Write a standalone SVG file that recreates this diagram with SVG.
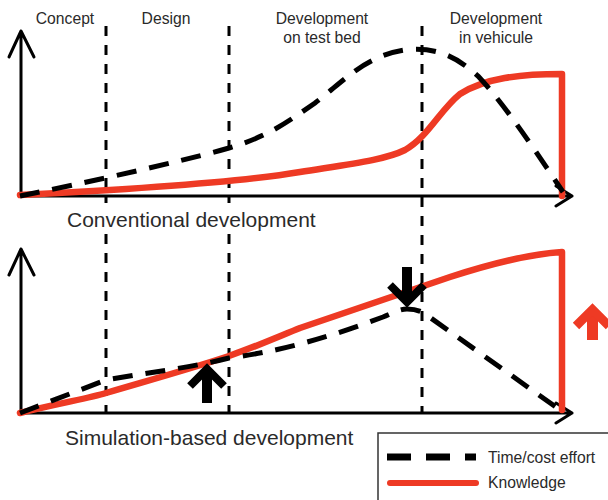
<svg xmlns="http://www.w3.org/2000/svg" width="608" height="500" viewBox="0 0 608 500">
<style>
.t{font-family:"Liberation Sans",Arial,sans-serif;fill:#2a2a2a}
.ax{fill:none;stroke:#000;stroke-width:3;stroke-linecap:round;stroke-linejoin:round}
.ph{fill:none;stroke:#000;stroke-width:3;stroke-dasharray:10 9}
.eff{fill:none;stroke:#000;stroke-width:5;stroke-dasharray:20 13}
.kn{fill:none;stroke:#ee3a24;stroke-width:6.5;stroke-linecap:round;stroke-linejoin:round}
.ar{fill:none;stroke:#000}
</style>
<rect width="608" height="500" fill="#fff"/>
<g id="phase-labels" class="t" font-size="15.7" text-anchor="middle">
<text x="65" y="24">Concept</text>
<text x="166" y="24">Design</text>
<text x="322" y="24">Development</text>
<text x="322" y="43">on test bed</text>
<text x="496" y="24">Development</text>
<text x="496" y="43">in vehicule</text>
</g>
<g id="phase-lines">
<path class="ph" d="M106,26 V203 M106,234 V413"/>
<path class="ph" d="M229,26 V203 M229,234 V413"/>
<path class="ph" d="M422,26 V413"/>
</g>
<g id="conventional">
<path class="ax" d="M21,196 V31 M9,57 L21,31 L34,57"/>
<path class="ax" d="M21,196 H572 M556,186 L572,196 L556,206"/>
<path class="kn" d="M20,195 C100,191 230,184 300,172 C350,164 385,160 405,150 C428,137 440,110 460,94 C485,78 520,74 562,74 L562,196"/>
<path class="eff" d="M20,196 C80,184 180,162 229,148 C270,136 290,120 315,103 C345,80 365,56 405,50 C440,46 460,60 478,76 C505,105 535,150 563,192"/>
<text class="t" x="67" y="227" font-size="21">Conventional development</text>
</g>
<g id="simulation">
<path class="ax" d="M21,413 V249 M9,275 L21,249 L34,275"/>
<path class="ax" d="M21,413 H572 M556,403 L572,413 L556,423"/>
<path class="kn" d="M20,413 C60,403 90,398 106,393 C150,380 190,369 229,356 C260,345 280,336 300,328 L450,277 C490,264 530,254 562,252 L562,410"/>
<path class="eff" d="M20,413 L106,380 C150,372 190,368 229,358 C290,350 340,333 383,317 C395,312 400,309 407,309 C415,309 422,311 428,316 L560,410"/>
<text class="t" x="65" y="445" font-size="21">Simulation-based development</text>
</g>
<g id="arrows">
<path class="ar" stroke-width="10" d="M207,403 V372"/>
<polyline class="ar" stroke-width="8" points="190,386 207,369 224,386"/>
<path class="ar" stroke-width="10" d="M407,267 V298"/>
<polyline class="ar" stroke-width="8" points="390,285 407,302 424,285"/>
<path fill="none" stroke="#ee3a24" stroke-width="11" d="M592.5,340 V313"/>
<polyline fill="none" stroke="#ee3a24" stroke-width="9" points="576,326 592.5,309.5 609,326"/>
</g>
<g id="legend">
<rect x="378" y="433" width="240" height="80" fill="#fff" stroke="#333" stroke-width="1.5"/>
<path fill="none" stroke="#000" stroke-width="7" stroke-dasharray="24 15" d="M387,457 H476"/>
<path fill="none" stroke="#ee3a24" stroke-width="6" stroke-linecap="round" d="M390,483 H476"/>
<text class="t" x="488" y="463" font-size="15.7">Time/cost effort</text>
<text class="t" x="488" y="488" font-size="15.7">Knowledge</text>
</g>
</svg>
